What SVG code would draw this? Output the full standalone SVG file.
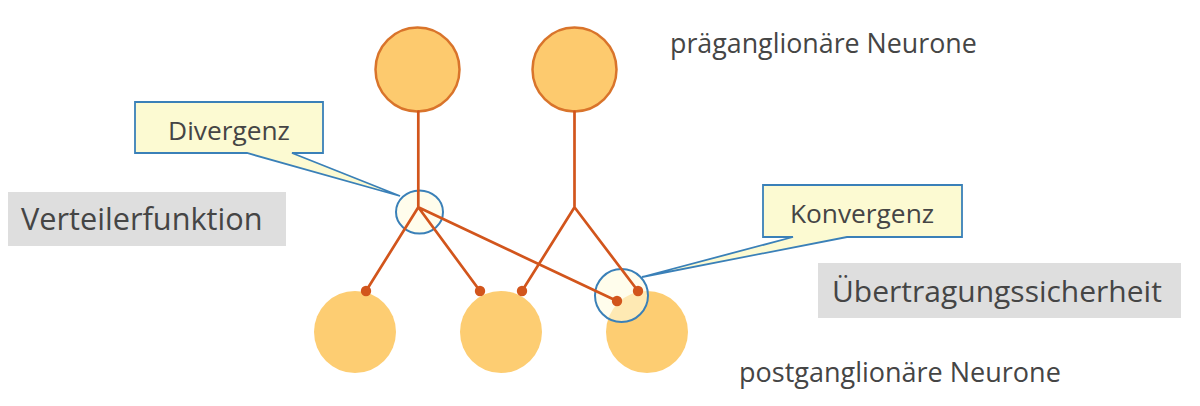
<svg xmlns="http://www.w3.org/2000/svg" width="1200" height="406" viewBox="0 0 1200 406">
<style>
.t{font-family:"Open Sans","Liberation Sans",sans-serif;fill:#454545}
.pre{fill:#fdca6e;stroke:#d9742b;stroke-width:2.5}
.post{fill:#fdcd72}
.ax{fill:none;stroke:#d2551c;stroke-width:2.7;stroke-linecap:round}
.dot{fill:#d2551c}
.hl{fill:#fffbe0;fill-opacity:0.6;stroke:#3a80b8;stroke-width:2}
.call{fill:#fcfad2;stroke:#3a80b8;stroke-width:1.8;stroke-linejoin:miter}
.gray{fill:#dedede}
</style>
<rect width="1200" height="406" fill="#ffffff"/>
<g id="pre1"><circle class="pre" cx="417.5" cy="69.5" r="42"/></g>
<g id="pre2"><circle class="pre" cx="574.5" cy="69.5" r="42"/></g>
<g id="post1"><circle class="post" cx="355" cy="332" r="41"/></g>
<g id="post2"><circle class="post" cx="501" cy="332" r="41"/></g>
<g id="post3"><circle class="post" cx="647" cy="332" r="41"/></g>
<g id="highlight-divergenz"><ellipse class="hl" cx="419.5" cy="212" rx="23.5" ry="21.5"/></g>
<g id="highlight-konvergenz"><circle class="hl" cx="621.5" cy="295.5" r="26.5"/></g>
<g id="connectors">
<path class="ax" d="M418.3,111.5 V207.3 M418.3,207.3 L366,291 M418.3,207.3 L480,291 M418.3,207.3 L617,301"/>
<path class="ax" d="M574.5,111.5 V207.3 M574.5,207.3 L522,291 M574.5,207.3 L638,291"/>
<circle class="dot" cx="366" cy="291" r="5.2"/>
<circle class="dot" cx="480" cy="291" r="5.2"/>
<circle class="dot" cx="522" cy="291" r="5.2"/>
<circle class="dot" cx="617" cy="301" r="5.2"/>
<circle class="dot" cx="638" cy="291" r="5.2"/>
</g>
<g id="callout-divergenz">
<path class="call" d="M135,102 H323 V153 H292 L400,196 L247,153 H135 Z"/>
<text class="t" x="229" y="140" font-size="26.3" text-anchor="middle">Divergenz</text>
</g>
<g id="callout-konvergenz">
<path class="call" d="M763,185 H962 V237 H847 L642,277 L793,237 H763 Z"/>
<text class="t" x="862" y="223" font-size="26.3" text-anchor="middle">Konvergenz</text>
</g>
<g id="label-verteilerfunktion">
<rect class="gray" x="8" y="192" width="278" height="54"/>
<text class="t" x="21" y="230" font-size="30.7">Verteilerfunktion</text>
</g>
<g id="label-uebertragungssicherheit">
<rect class="gray" x="818" y="263" width="363" height="55"/>
<text class="t" x="832" y="302" font-size="30">Übertragungssicherheit</text>
</g>
<g id="label-pre"><text class="t" x="670" y="53" font-size="26.8">präganglionäre Neurone</text></g>
<g id="label-post"><text class="t" x="739" y="382" font-size="27">postganglionäre Neurone</text></g>
</svg>
